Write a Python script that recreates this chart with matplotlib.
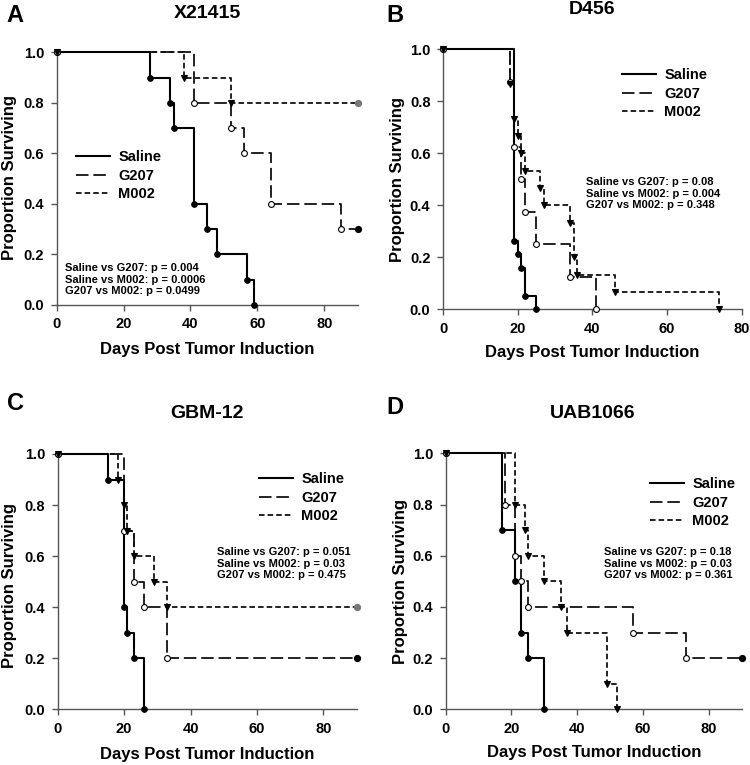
import matplotlib
matplotlib.use("Agg")
import matplotlib.pyplot as plt
from matplotlib.lines import Line2D

plt.rcParams['font.family'] = ['Liberation Sans', 'DejaVu Sans']
plt.rcParams['font.weight'] = 'bold'
plt.rcParams['lines.scale_dashes'] = False

W, H = 750, 765

# ---------------- data ----------------
groups = ["Saline", "G207", "M002"]
panel_letters = ["A", "B", "C", "D"]
panel_titles = ["X21415", "D456", "GBM-12", "UAB1066"]
x_max = [90, 80, 90, 90]
x_ticks = [0, 20, 40, 60, 80]
y_ticks = [0.0, 0.2, 0.4, 0.6, 0.8, 1.0]

A_sal_t = [0, 28, 34, 35, 41, 45, 48, 57, 59]
A_sal_s = [1.0, 0.9, 0.8, 0.7, 0.4, 0.3, 0.2, 0.1, 0.0]
A_g207_t = [0, 41, 52, 56, 64, 85]
A_g207_s = [1.0, 0.8, 0.7, 0.6, 0.4, 0.3]
A_m002_t = [0, 38, 52]
A_m002_s = [1.0, 0.9, 0.8]

B_sal_t = [0, 19, 20, 21, 22, 25]
B_sal_s = [1.0, 0.263, 0.211, 0.158, 0.053, 0.0]
B_g207_t = [0, 18, 19, 21, 22, 25, 34, 41]
B_g207_s = [1.0, 0.875, 0.625, 0.5, 0.375, 0.25, 0.125, 0.0]
B_m002_t = [0, 18, 19, 20, 21, 22, 26, 27, 34, 35, 36, 46, 74]
B_m002_s = [1.0, 0.867, 0.733, 0.667, 0.6, 0.533, 0.467, 0.4, 0.333, 0.2, 0.133, 0.067, 0.0]

C_sal_t = [0, 15, 20, 21, 23, 26]
C_sal_s = [1.0, 0.9, 0.4, 0.3, 0.2, 0.0]
C_g207_t = [0, 20, 23, 26, 33]
C_g207_s = [1.0, 0.7, 0.5, 0.4, 0.2]
C_m002_t = [0, 18, 20, 21, 23, 29, 33]
C_m002_s = [1.0, 0.9, 0.8, 0.7, 0.6, 0.5, 0.4]

D_sal_t = [0, 17, 21, 23, 25, 30]
D_sal_s = [1.0, 0.7, 0.5, 0.3, 0.2, 0.0]
D_g207_t = [0, 18, 21, 23, 25, 57, 73]
D_g207_s = [1.0, 0.8, 0.6, 0.5, 0.4, 0.3, 0.2]
D_m002_t = [0, 21, 24, 25, 30, 35, 37, 49, 52]
D_m002_s = [1.0, 0.8, 0.7, 0.6, 0.5, 0.4, 0.3, 0.1, 0.0]

# censored end-of-study points (None = curve reaches zero)
end_day = 90
A_end = [None, "black", "#777777"]
B_end = [None, None, None]
C_end = [None, "black", "#777777"]
D_end = [None, "black", None]

A_p = ["Saline vs G207: p = 0.004", "Saline vs M002: p = 0.0006", "G207 vs M002: p = 0.0499"]
B_p = ["Saline vs G207: p = 0.08", "Saline vs M002: p = 0.004", "G207 vs M002: p = 0.348"]
C_p = ["Saline vs G207: p = 0.051", "Saline vs M002: p = 0.03", "G207 vs M002: p = 0.475"]
D_p = ["Saline vs G207: p = 0.18", "Saline vs M002: p = 0.03", "G207 vs M002: p = 0.361"]

panels = [
    [(A_sal_t, A_sal_s), (A_g207_t, A_g207_s), (A_m002_t, A_m002_s)],
    [(B_sal_t, B_sal_s), (B_g207_t, B_g207_s), (B_m002_t, B_m002_s)],
    [(C_sal_t, C_sal_s), (C_g207_t, C_g207_s), (C_m002_t, C_m002_s)],
    [(D_sal_t, D_sal_s), (D_g207_t, D_g207_s), (D_m002_t, D_m002_s)],
]
ends = [A_end, B_end, C_end, D_end]
pvals = [A_p, B_p, C_p, D_p]

# ---------------- layout (pixels) ----------------
ax_px = [(56.7, 52.3, 357.7, 305.0),
         (443.0, 49.3, 741.7, 309.3),
         (57.7, 454.0, 356.7, 709.3),
         (445.7, 453.3, 741.7, 709.3)]
letter_px = [(15, 15), (395, 15), (15, 403), (395, 408)]
title_px = [(207, 13), (592, 10), (207, 413), (593, 413)]
ylab_px = [(10, 178), (398, 180), (10, 585), (400, 582)]
xlab_px = [(207, 350), (592, 353), (207, 754), (594, 753)]
leg_px = [(76, 150), (622, 68), (259, 472), (650, 477)]
p_px = [(65, 263), (586, 177), (217, 547), (604, 547)]

styles = [
    dict(color="black", lw=1.5, ls="-", marker="o", mfc="black", mec="black", ms=4),
    dict(color="#111111", lw=1.3, ls=(0, (9, 3.5)), marker="o", mfc="white", mec="black", ms=4.2, mew=0.8),
    dict(color="#111111", lw=1.3, ls=(0, (4, 2.2)), marker="v", mfc="black", mec="black", ms=4),
]

def fx(x):
    return x / W

def fy(y):
    return 1 - y / H

fig = plt.figure(figsize=(W / 100, H / 100), dpi=100)
spine_col = "#555555"

for i in range(4):
    l, t, r, b = ax_px[i]
    ax = fig.add_axes([fx(l), fy(b), (r - l) / W, (b - t) / H])
    handles = []
    for g in range(3):
        tt, ss = panels[i][g]
        st = styles[g]
        xs = list(tt)
        ys = list(ss)
        if ends[i][g] is not None:
            xs.append(end_day)
            ys.append(ys[-1])
        ax.step(xs, ys, where="post", color=st["color"], lw=st["lw"], ls=st["ls"],
                clip_on=False, zorder=3 - g * 0.1)
        ax.plot(tt, ss, ls="none", marker=st["marker"], mfc=st["mfc"], mec=st["mec"],
                ms=st["ms"], mew=st.get("mew", 0.8), clip_on=False, zorder=5)
        if ends[i][g] is not None:
            ax.plot([end_day], [ss[-1]], ls="none", marker="o", mfc=ends[i][g],
                    mec=ends[i][g], ms=4.2, clip_on=False, zorder=5)
        handles.append(Line2D([], [], color=st["color"], lw=st["lw"], ls=st["ls"]))

    ax.set_xlim(0, x_max[i])
    ax.set_ylim(0, 1.0)
    ax.set_xticks(x_ticks)
    ax.set_yticks(y_ticks)
    ax.set_yticklabels(["%.1f" % v for v in y_ticks])
    for s in ["top", "right"]:
        ax.spines[s].set_visible(False)
    for s in ["left", "bottom"]:
        ax.spines[s].set_color(spine_col)
        ax.spines[s].set_linewidth(1.0)
    ax.tick_params(direction="out", length=4, width=1, color=spine_col,
                   labelsize=10.5, pad=5)
    for lab in ax.get_xticklabels() + ax.get_yticklabels():
        lab.set_fontweight("bold")

    lx, ly = leg_px[i]
    ax.legend(handles, groups, loc="upper left", bbox_to_anchor=(fx(lx), fy(ly)),
              bbox_transform=fig.transFigure, frameon=False, borderpad=0,
              borderaxespad=0, handlelength=2.35, handletextpad=0.55,
              labelspacing=0.32, prop=dict(size=10.5, weight="bold"))

    px, py = p_px[i]
    fig.text(fx(px), fy(py), "\n".join(pvals[i]), ha="left", va="top",
             fontsize=8, fontweight="bold", linespacing=1.2)

    x, y = letter_px[i]
    fig.text(fx(x), fy(y), panel_letters[i], ha="center", va="center",
             fontsize=17, fontweight="bold")
    x, y = title_px[i]
    fig.text(fx(x), fy(y), panel_titles[i], ha="center", va="center",
             fontsize=14, fontweight="bold")
    x, y = ylab_px[i]
    fig.text(fx(x), fy(y), "Proportion Surviving", ha="center", va="center",
             rotation=90, fontsize=12, fontweight="bold")
    x, y = xlab_px[i]
    fig.text(fx(x), fy(y), "Days Post Tumor Induction", ha="center", va="center",
             fontsize=12, fontweight="bold")

fig.savefig("out.png", dpi=100)
